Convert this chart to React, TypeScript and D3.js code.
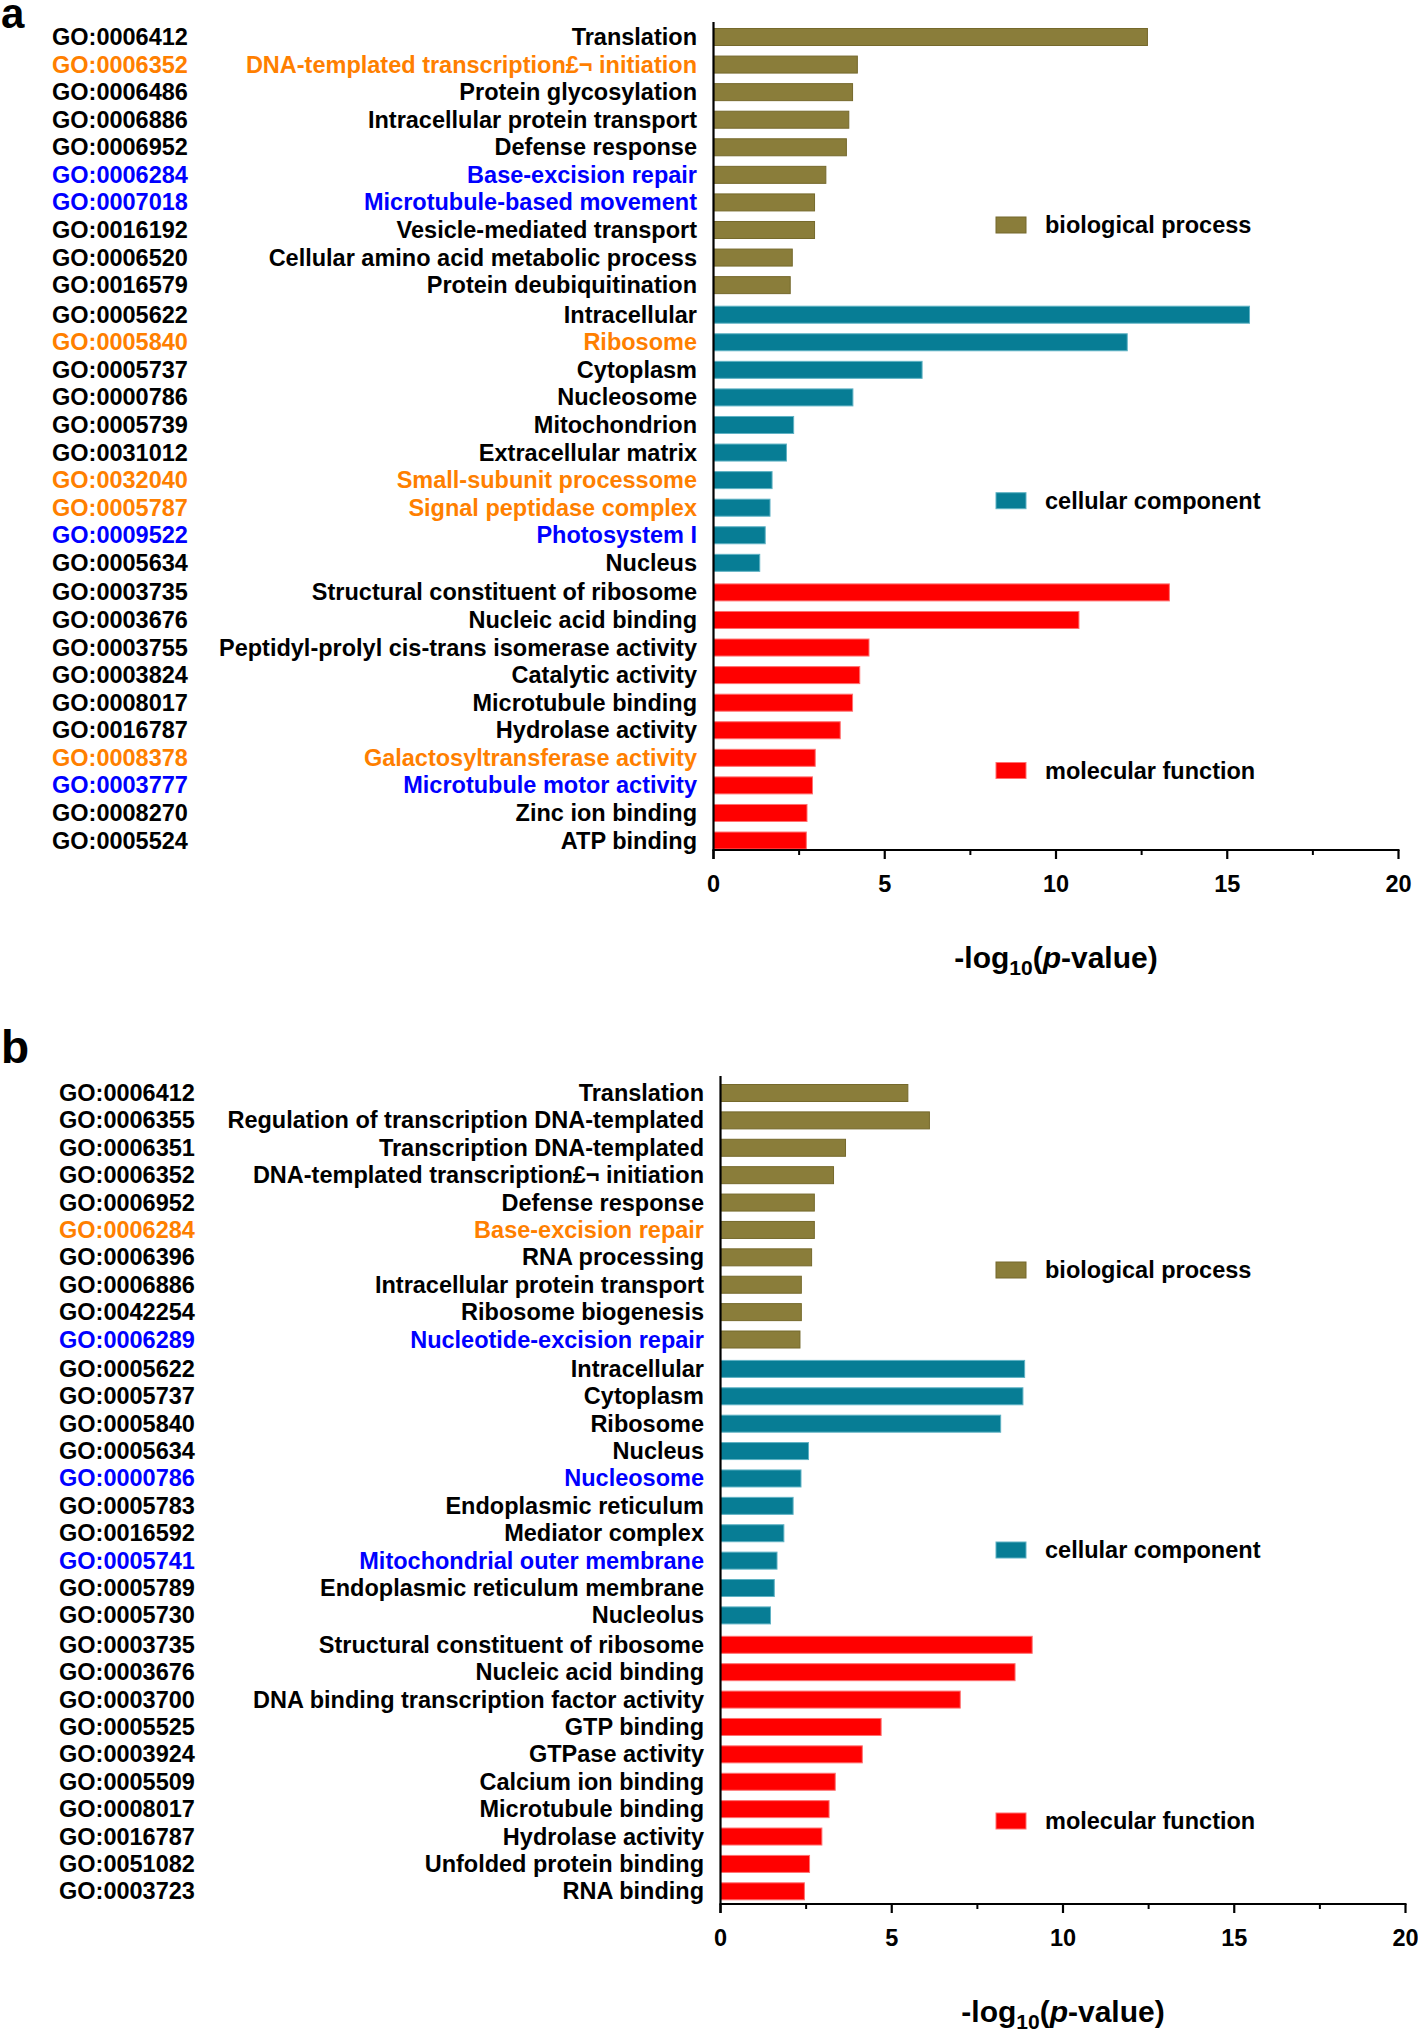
import React from "react";
import * as d3 from "d3";

const categories = ["biological process", "cellular component", "molecular function"];
const categoryColors = ["#8a7d3a", "#077d95", "#ff0000"];
const categoryStroke = ["#75692c", "#5fb2c4", "#ff7070"];

const aIds = [
  "GO:0006412", "GO:0006352", "GO:0006486", "GO:0006886", "GO:0006952", "GO:0006284", "GO:0007018", "GO:0016192", "GO:0006520", "GO:0016579",
  "GO:0005622", "GO:0005840", "GO:0005737", "GO:0000786", "GO:0005739", "GO:0031012", "GO:0032040", "GO:0005787", "GO:0009522", "GO:0005634",
  "GO:0003735", "GO:0003676", "GO:0003755", "GO:0003824", "GO:0008017", "GO:0016787", "GO:0008378", "GO:0003777", "GO:0008270", "GO:0005524",
];
const aTerms = [
  "Translation", "DNA-templated transcription£¬ initiation", "Protein glycosylation", "Intracellular protein transport", "Defense response",
  "Base-excision repair", "Microtubule-based movement", "Vesicle-mediated transport", "Cellular amino acid metabolic process", "Protein deubiquitination",
  "Intracellular", "Ribosome", "Cytoplasm", "Nucleosome", "Mitochondrion", "Extracellular matrix", "Small-subunit processome",
  "Signal peptidase complex", "Photosystem I", "Nucleus",
  "Structural constituent of ribosome", "Nucleic acid binding", "Peptidyl-prolyl cis-trans isomerase activity", "Catalytic activity",
  "Microtubule binding", "Hydrolase activity", "Galactosyltransferase activity", "Microtubule motor activity", "Zinc ion binding", "ATP binding",
];
const aValues = [
  12.67, 4.2, 4.06, 3.95, 3.88, 3.28, 2.95, 2.95, 2.3, 2.24,
  15.65, 12.08, 6.09, 4.07, 2.34, 2.13, 1.71, 1.65, 1.51, 1.35,
  13.31, 10.67, 4.54, 4.27, 4.06, 3.7, 2.97, 2.89, 2.73, 2.71,
];
const aLabelColors = [
  "k", "o", "k", "k", "k", "b", "b", "k", "k", "k",
  "k", "o", "k", "k", "k", "k", "o", "o", "b", "k",
  "k", "k", "k", "k", "k", "k", "o", "b", "k", "k",
];

const bIds = [
  "GO:0006412", "GO:0006355", "GO:0006351", "GO:0006352", "GO:0006952", "GO:0006284", "GO:0006396", "GO:0006886", "GO:0042254", "GO:0006289",
  "GO:0005622", "GO:0005737", "GO:0005840", "GO:0005634", "GO:0000786", "GO:0005783", "GO:0016592", "GO:0005741", "GO:0005789", "GO:0005730",
  "GO:0003735", "GO:0003676", "GO:0003700", "GO:0005525", "GO:0003924", "GO:0005509", "GO:0008017", "GO:0016787", "GO:0051082", "GO:0003723",
];
const bTerms = [
  "Translation", "Regulation of transcription DNA-templated", "Transcription DNA-templated", "DNA-templated transcription£¬ initiation",
  "Defense response", "Base-excision repair", "RNA processing", "Intracellular protein transport", "Ribosome biogenesis", "Nucleotide-excision repair",
  "Intracellular", "Cytoplasm", "Ribosome", "Nucleus", "Nucleosome", "Endoplasmic reticulum", "Mediator complex",
  "Mitochondrial outer membrane", "Endoplasmic reticulum membrane", "Nucleolus",
  "Structural constituent of ribosome", "Nucleic acid binding", "DNA binding transcription factor activity", "GTP binding",
  "GTPase activity", "Calcium ion binding", "Microtubule binding", "Hydrolase activity", "Unfolded protein binding", "RNA binding",
];
const bValues = [
  5.47, 6.1, 3.65, 3.3, 2.74, 2.74, 2.66, 2.36, 2.36, 2.32,
  8.88, 8.83, 8.18, 2.57, 2.35, 2.12, 1.85, 1.65, 1.57, 1.46,
  9.1, 8.6, 7.0, 4.69, 4.14, 3.35, 3.17, 2.96, 2.6, 2.45,
];
const bLabelColors = [
  "k", "k", "k", "k", "k", "o", "k", "k", "k", "b",
  "k", "k", "k", "k", "b", "k", "k", "b", "k", "k",
  "k", "k", "k", "k", "k", "k", "k", "k", "k", "k",
];

const xTicks = [0, 5, 10, 15, 20];
const xMinorTicks = [2.5, 7.5, 12.5, 17.5];

const labelColorMap: Record<string, string> = { k: "#000000", o: "#ff7f00", b: "#0000ff" };
const FONT = "'Liberation Sans', Arial, Helvetica, sans-serif";

type PanelProps = {
  letter: string;
  ids: string[];
  terms: string[];
  values: number[];
  labelColors: string[];
  dy: number;
  dx: number;
  firstRow: number;
  rowStep: number;
  legendY: number[];
  letterY: number;
};

function Panel({ letter, ids, terms, values, labelColors, dy, dx, firstRow, rowStep, legendY, letterY }: PanelProps) {
  const x0 = 713.5 + dx;
  const x1 = 1398.5 + dx;
  const x = d3.scaleLinear().domain([0, 20]).range([x0, x1]);
  const groupGap = 2;
  const rowY = (i: number) => firstRow + i * rowStep + Math.floor(i / 10) * groupGap;
  const barH = 17;
  const axisY = 850 + dy;
  const axisTop = 22 + dy;
  const fs = 23.5;
  return (
    <g>
      <text x={1} y={letterY} fontFamily={FONT} fontWeight="bold" fontSize={letter === "a" ? 42 : 46} fill="#000">
        {letter}
      </text>
      {values.map((v, i) => {
        const g = Math.floor(i / 10);
        return (
          <rect
            key={"bar" + i}
            x={x(0)}
            y={rowY(i) - barH / 2}
            width={x(v) - x(0)}
            height={barH}
            fill={categoryColors[g]}
            stroke={categoryStroke[g]}
            strokeWidth={1}
          />
        );
      })}
      {ids.map((id, i) => (
        <text
          key={"id" + i}
          x={52 + dx}
          y={rowY(i) + 8}
          fontFamily={FONT}
          fontWeight="bold"
          fontSize={fs}
          fill={labelColorMap[labelColors[i]]}
        >
          {id}
        </text>
      ))}
      {terms.map((t, i) => (
        <text
          key={"term" + i}
          x={697 + dx}
          y={rowY(i) + 8}
          textAnchor="end"
          fontFamily={FONT}
          fontWeight="bold"
          fontSize={fs}
          fill={labelColorMap[labelColors[i]]}
        >
          {t}
        </text>
      ))}
      <line x1={x0} x2={x0} y1={axisTop} y2={axisY + 9} stroke="#000" strokeWidth={2.2} />
      <line x1={x0 - 1} x2={x1 + 1} y1={axisY} y2={axisY} stroke="#000" strokeWidth={2.2} />
      {xTicks.map((t) => (
        <g key={"t" + t}>
          <line x1={x(t)} x2={x(t)} y1={axisY} y2={axisY + 9} stroke="#000" strokeWidth={2.2} />
          <text
            x={x(t)}
            y={axisY + 42}
            textAnchor="middle"
            fontFamily={FONT}
            fontWeight="bold"
            fontSize={fs}
            fill="#000"
          >
            {t}
          </text>
        </g>
      ))}
      {xMinorTicks.map((t) => (
        <line key={"m" + t} x1={x(t)} x2={x(t)} y1={axisY} y2={axisY + 5} stroke="#000" strokeWidth={2} />
      ))}
      <text
        x={(x0 + x1) / 2}
        y={axisY + 118}
        textAnchor="middle"
        fontFamily={FONT}
        fontWeight="bold"
        fontSize={30}
        fill="#000"
      >
        -log
        <tspan fontSize={21} dy={7}>10</tspan>
        <tspan dy={-7}>(</tspan>
        <tspan fontStyle="italic">p</tspan>
        <tspan>-value)</tspan>
      </text>
      {categories.map((c, k) => (
        <g key={"leg" + k}>
          <rect
            x={996}
            y={legendY[k] - 8}
            width={30}
            height={16}
            fill={categoryColors[k]}
            stroke={categoryStroke[k]}
            strokeWidth={1}
          />
          <text x={1045} y={legendY[k] + 8} fontFamily={FONT} fontWeight="bold" fontSize={fs} fill="#000">
            {c}
          </text>
        </g>
      ))}
    </g>
  );
}

export default function App() {
  return (
    <svg
      width={1418}
      height={2034}
      viewBox="0 0 1418 2034"
      style={{ position: "absolute", left: 0, top: 0, background: "#fff" }}
    >
      <rect x={0} y={0} width={1418} height={2034} fill="#fff" />
      <Panel
        letter="a"
        ids={aIds}
        terms={aTerms}
        values={aValues}
        labelColors={aLabelColors}
        dy={0}
        dx={0}
        firstRow={37}
        rowStep={27.57}
        legendY={[225, 500.7, 770.5]}
        letterY={28}
      />
      <Panel
        letter="b"
        ids={bIds}
        terms={bTerms}
        values={bValues}
        labelColors={bLabelColors}
        dy={1054}
        dx={7}
        firstRow={1093}
        rowStep={27.39}
        legendY={[1270, 1550, 1821]}
        letterY={1063}
      />
    </svg>
  );
}
